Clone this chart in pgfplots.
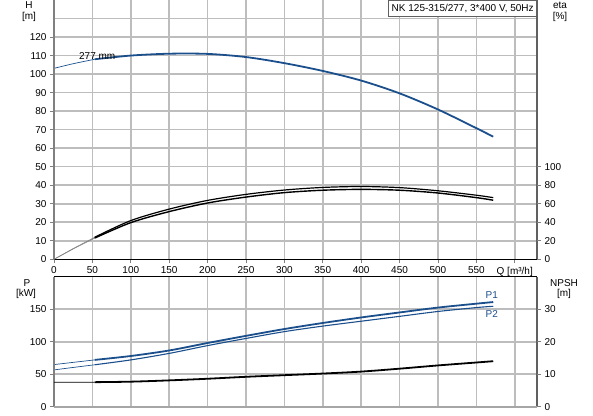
\documentclass[border=0pt]{standalone}
\usepackage{fontspec}
\setmainfont{Liberation Sans}
\usepackage{pgfplots}
\pgfplotsset{compat=1.18}
\definecolor{cblue}{HTML}{1B4F8C}
\definecolor{cgrid}{HTML}{BDBDBD}
\definecolor{caxis}{HTML}{808080}
\definecolor{caxisr}{HTML}{606060}
\pgfplotsset{
  base/.style={
    scale only axis, width=483pt,
    xmin=0, xmax=629,
    axis line style={draw=none},
    tick style={caxis, line width=0.8pt},
    tick align=outside, major tick length=4pt,
    /pgf/number format/assume math mode=true,
    clip mode=individual,
    every tick label/.append style={font=\fontsize{10}{11}\selectfont},
  },
}
\begin{document}
\begin{tikzpicture}[font=\fontsize{10}{11}\selectfont]
\path[use as bounding box] (0,0) rectangle (593pt,415pt);
% ---------- top: H ----------
\begin{axis}[base, at={(54pt,155.7pt)}, anchor=south west, height=259.3pt,
  ymin=0, ymax=140, ytick={0,10,...,120}, ytick pos=left,
  xtick={0,50,...,600}, xtick pos=bottom,
  xticklabels={0,50,100,150,200,250,300,350,400,450,500,550,{Q [m³/h]}},
  grid=major, major grid style={cgrid, line width=1.6pt}]
\draw[cgrid, line width=1.6pt] (axis cs:0,130) -- (axis cs:629,130);
\addplot[cblue, line width=0.7pt, smooth] coordinates {(0,103.1) (25,105.6) (53,108)};
\addplot[cblue, line width=1.8pt, smooth] coordinates {
(53,108) (100,110.0) (150,111.0) (200,110.9) (250,109.2) (300,105.9) (350,101.7)
(400,96.5) (450,89.6) (500,80.9) (550,70.8) (572,66.2)};
\node[anchor=west, inner sep=0pt] at (axis cs:32.5,109.6) {277 mm};
\draw[caxis, line width=2pt] (rel axis cs:0,0) -- (rel axis cs:0,1);
\draw[caxisr, line width=2pt] (rel axis cs:1,0) -- (rel axis cs:1,1);
\draw[black, line width=1pt] (rel axis cs:0,0) -- (rel axis cs:1,0);
\end{axis}
% ---------- top: eta ----------
\begin{axis}[base, at={(54pt,155.7pt)}, anchor=south west, height=259.3pt,
  ymin=0, ymax=280, ytick={0,20,...,100}, ytick pos=right,
  xtick=\empty]
\addplot[gray, line width=0.6pt] coordinates {(0,0) (25,11.6) (53,23.8)};
\addplot[gray, line width=0.6pt] coordinates {(0,0) (25,11.2) (53,22.9)};
\addplot[black, line width=1.2pt, smooth] coordinates {
(53,23.8) (100,41.8) (150,54.2) (200,63.6) (250,70.1) (300,74.8) (350,77.6)
(400,78.6) (450,77.4) (500,74.0) (550,69.2) (572,66.6)};
\addplot[black, line width=1.4pt, smooth] coordinates {
(53,22.9) (100,39.6) (150,51.5) (200,60.8) (250,67.2) (300,72.0) (350,74.6)
(400,75.5) (450,74.6) (500,71.6) (550,66.6) (572,63.8)};
\end{axis}
% ---------- bottom: P ----------
\begin{axis}[base, at={(54pt,8.3pt)}, anchor=south west, height=130pt,
  ymin=0, ymax=200, ytick={0,50,100,150}, ytick pos=left,
  xtick={0,50,...,600}, xticklabels={}, x tick style={draw=none},
  grid=major, major grid style={cgrid, line width=1.6pt}]
\addplot[cblue, line width=0.7pt, smooth] coordinates {(0,64.8) (25,68.2) (53,72)};
\addplot[cblue, line width=0.7pt, smooth] coordinates {(0,56.6) (25,60.4) (53,64.5)};
\addplot[cblue, line width=1.8pt, smooth] coordinates {
(53,72) (100,78) (150,86.5) (200,98) (250,109) (300,119.5) (350,128.8)
(400,137.3) (450,145) (500,152.5) (550,158.5) (572,161)};
\addplot[cblue, line width=1.1pt, smooth] coordinates {
(53,64.5) (100,72) (150,82) (200,94) (250,105) (300,115.5) (350,124)
(400,131.5) (450,139) (500,146.5) (550,152.5) (572,154.5)};
\node[cblue] at (axis cs:570,172.4) {P1};
\node[cblue] at (axis cs:570,142.6) {P2};
\draw[caxis, line width=2pt] (rel axis cs:0,0) -- (rel axis cs:0,1);
\draw[caxisr, line width=2pt] (rel axis cs:1,0) -- (rel axis cs:1,1);
\draw[black, line width=1pt] (rel axis cs:0,1) -- (rel axis cs:1,1);
\draw[gray!70, line width=1.6pt] (rel axis cs:0,0) -- (rel axis cs:1,0);
\end{axis}
% ---------- bottom: NPSH ----------
\begin{axis}[base, at={(54pt,8.3pt)}, anchor=south west, height=130pt,
  ymin=0, ymax=40, ytick={0,10,20,30}, ytick pos=right,
  xtick=\empty]
\addplot[black, line width=0.7pt] coordinates {(0,7.5) (53,7.55)};
\addplot[black, line width=1.8pt, smooth] coordinates {
(53,7.55) (100,7.7) (150,8.1) (200,8.6) (250,9.2) (300,9.7) (350,10.2)
(400,10.8) (450,11.7) (500,12.7) (550,13.6) (572,14.0)};
\end{axis}
% ---------- labels ----------
\node at (29pt,410pt) {H};
\node at (29pt,398pt) {[m]};
\node at (560pt,410pt) {eta};
\node at (560pt,398pt) {[\%]};
\node at (27pt,132.3pt) {P};
\node at (26pt,121pt) {[kW]};
\node at (564pt,132.3pt) {NPSH};
\node at (564pt,121pt) {[m]};
\node[draw=caxisr, line width=0.6pt, fill=white, anchor=north east, minimum height=15.7pt, inner xsep=3pt]
  at (537pt,415pt) {NK 125-315/277, 3*400 V, 50Hz};
\end{tikzpicture}
\end{document}
